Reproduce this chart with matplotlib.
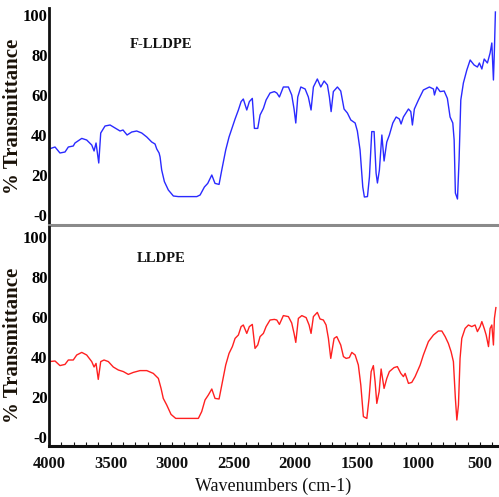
import matplotlib
matplotlib.use("Agg")
import matplotlib.pyplot as plt
from matplotlib.ticker import MultipleLocator

# ---------------- data ----------------
f_wn = [4000, 3951, 3911, 3870, 3843, 3803, 3789, 3734, 3694, 3653, 3634, 3618, 3596, 3580,
        3545, 3504, 3464, 3423, 3399, 3366, 3328, 3288, 3247, 3206, 3166, 3139, 3125, 3106,
        3098, 3085, 3063, 3031, 2990, 2950, 2800, 2773, 2738, 2711, 2678, 2652, 2619, 2597,
        2565, 2538, 2511, 2489, 2462, 2440, 2422, 2394, 2373, 2349, 2332, 2305, 2286, 2259,
        2237, 2205, 2170, 2150, 2129, 2097, 2056, 2029, 2010, 1996, 1980, 1955, 1920, 1894,
        1872, 1853, 1821, 1793, 1766, 1739, 1723, 1709, 1691, 1658, 1631, 1604, 1577, 1549,
        1514, 1496, 1474, 1452, 1439, 1414, 1398, 1379, 1360, 1344, 1333, 1317, 1297, 1279,
        1257, 1236, 1208, 1181, 1155, 1141, 1122, 1081, 1062, 1049, 1033, 1000, 960, 911,
        878, 870, 851, 824, 791, 765, 743, 721, 710, 700, 683, 670, 656, 635, 607, 580, 548,
        521, 505, 485, 466, 440, 418, 404, 391, 383, 375]
f_T = [33, 34, 31, 31.5, 34, 34.5, 36, 38.3, 37.5, 35, 32, 36, 26, 41,
       44.5, 45, 43.5, 42, 42.5, 40, 41.5, 42, 41, 39, 36.5, 35.5, 33, 31,
       29, 22.5, 16.7, 12.5, 9.5, 9.2, 9.2, 10, 14, 15.8, 20, 15.8, 15.3, 22.5,
       32.5, 39, 44, 48, 52.5, 56.7, 58, 52.5, 56.7, 58.3, 43.3, 43.3, 50, 53.3,
       57.5, 61, 61.7, 61, 59, 64, 64, 60, 53, 46, 59, 64, 63, 59,
       52.5, 64, 68, 64, 67, 65, 59, 51.7, 61.7, 64, 62, 53, 51, 47.5,
       46, 42, 32.5, 14, 9, 9.2, 19, 41.7, 41.7, 21, 16, 22.5, 40, 27,
       36.5, 40, 46, 49, 48, 45.5, 49, 53, 51.7, 45, 53, 57.5, 62.5, 64,
       63, 60, 64, 61.7, 62, 58.3, 49, 46, 37.5, 11, 8, 27.5, 57.5, 66, 72.5, 77.5, 75,
       74, 76, 73, 78, 76, 81, 86, 67.5, 82.5, 101.5]

l_wn = [4000, 3951, 3911, 3870, 3843, 3803, 3775, 3734, 3694, 3653, 3634, 3618, 3600, 3580,
        3553, 3518, 3478, 3437, 3396, 3356, 3315, 3261, 3206, 3153, 3112, 3090, 3072, 3044,
        3009, 2971, 2787, 2760, 2733, 2706, 2678, 2652, 2619, 2597, 2565, 2538, 2511, 2489,
        2462, 2440, 2422, 2394, 2373, 2349, 2327, 2305, 2286, 2259, 2237, 2205, 2170, 2150,
        2129, 2097, 2056, 2029, 2010, 1996, 1975, 1947, 1912, 1888, 1872, 1853, 1821, 1799,
        1772, 1750, 1731, 1712, 1685, 1663, 1631, 1609, 1587, 1561, 1541, 1514, 1488, 1468,
        1447, 1419, 1401, 1384, 1366, 1352, 1338, 1319, 1303, 1279, 1257, 1236, 1198, 1171,
        1143, 1122, 1108, 1081, 1054, 1027, 986, 960, 919, 878, 838, 810, 783, 757, 735,
        716, 700, 688, 675, 662, 648, 621, 594, 567, 540, 521, 499, 485, 466, 450, 431,
        418, 404, 391, 383, 371]
l_T = [37.7, 38, 35.7, 36.3, 38.5, 38.5, 41, 42.3, 41, 37.7, 35, 36.8, 28.8, 37.7,
       38.5, 37.7, 35, 33.5, 32.7, 31.3, 32.3, 33.2, 33.2, 31.8, 29.3, 24.3, 19.3, 16,
       11.3, 9.3, 9.3, 12.7, 18.5, 21, 24, 19.3, 19, 26, 36, 41.8, 45.2, 49.3,
       51, 55.2, 56, 51.8, 55.2, 56.3, 44.3, 46, 50.2, 51.8, 55.2, 58.5, 58.8, 58.5,
       56.3, 60.7, 60.2, 57, 51.8, 47.3, 59.3, 60.7, 59.7, 56, 51.8, 60.2, 62.3, 59,
       58.5, 56, 49.3, 39.3, 49.3, 50.2, 46, 40.2, 39.3, 39.7, 42.3, 41, 36, 26,
       10.2, 9.3, 19.3, 32.7, 35.7, 27.7, 16.8, 22.7, 34, 24.3, 29.3, 32.7, 34.7, 35.2,
       31.8, 30.2, 31.8, 26.8, 27.3, 30.2, 36, 41, 47.7, 51, 53, 53, 50.2, 46.8, 42.7,
       37.7, 19.3, 8.5, 16, 39.3, 49.3, 54.3, 56, 55.2, 56, 52.7, 55.2, 57.7, 54.3, 51, 45.2,
       54.3, 56, 46, 59.3, 64.7]

panel_titles = ["F-LLDPE", "LLDPE"]
y_ticks = [0, 20, 40, 60, 80, 100]
y_ticklabels = ["-0", "20", "40", "60", "80", "100"]
x_ticks = [4000, 3500, 3000, 2500, 2000, 1500, 1000, 500]

# ---------------- figure ----------------
W, H = 499, 497
fig = plt.figure(figsize=(W / 100, H / 100), dpi=100)
serif = ["Liberation Serif", "DejaVu Serif"]

def px_axes(x0, y0, x1, y1):
    return fig.add_axes([x0 / W, 1 - y1 / H, (x1 - x0) / W, (y1 - y0) / H])

ax_top = px_axes(49, 8, 497, 225)
ax_bot = px_axes(49, 227, 497, 446)

for ax, wn, T, col, title, ylim, ly in [
        (ax_top, f_wn, f_T, "#2a2aff", panel_titles[0], (-5, 103.5), 0.50),
        (ax_bot, l_wn, l_T, "#ff2020", panel_titles[1], (-4.5, 105), 0.46)]:
    ax.plot(wn, T, color=col, lw=1.0)
    ax.set_xlim(4000, 362)
    ax.set_ylim(*ylim)
    ax.set_yticks(y_ticks)
    ax.set_yticklabels(y_ticklabels, fontfamily=serif, fontweight="bold", fontsize=12)
    ax.tick_params(axis="y", length=0, pad=1)
    for s in ["top", "right"]:
        ax.spines[s].set_visible(False)
    ax.spines["left"].set_linewidth(2.0)
    ax.spines["left"].set_color("#111111")
    ax.text(0.25, 0.83 if ax is ax_top else 0.855, title, transform=ax.transAxes,
            ha="center", va="center", fontfamily=serif, fontweight="bold",
            fontsize=10.5, color="#111111")
    ax.set_ylabel("% Transmittance", fontfamily=serif, fontweight="bold",
                  fontsize=15, color="#1a1208")
    ax.yaxis.set_label_coords(-0.058, ly)

# top panel: grey separator, no x labels
ax_top.spines["bottom"].set_color("#8a8a8a")
ax_top.spines["bottom"].set_linewidth(2.2)
ax_top.set_xticks([])

# bottom panel x axis
ax_bot.spines["bottom"].set_linewidth(2.2)
ax_bot.spines["bottom"].set_color("#111111")
ax_bot.set_xticks(x_ticks)
ax_bot.set_xticklabels([str(v) for v in x_ticks], fontfamily=serif,
                       fontweight="bold", fontsize=12)
ax_bot.xaxis.set_minor_locator(MultipleLocator(100))
ax_bot.tick_params(axis="x", which="both", direction="in", length=3, width=0.8,
                   pad=7, colors="#111111")
ax_bot.set_xlabel("Wavenumbers (cm-1)", fontfamily=serif, fontsize=13,
                  color="#111111", labelpad=4)

fig.savefig("out.png", dpi=100)
